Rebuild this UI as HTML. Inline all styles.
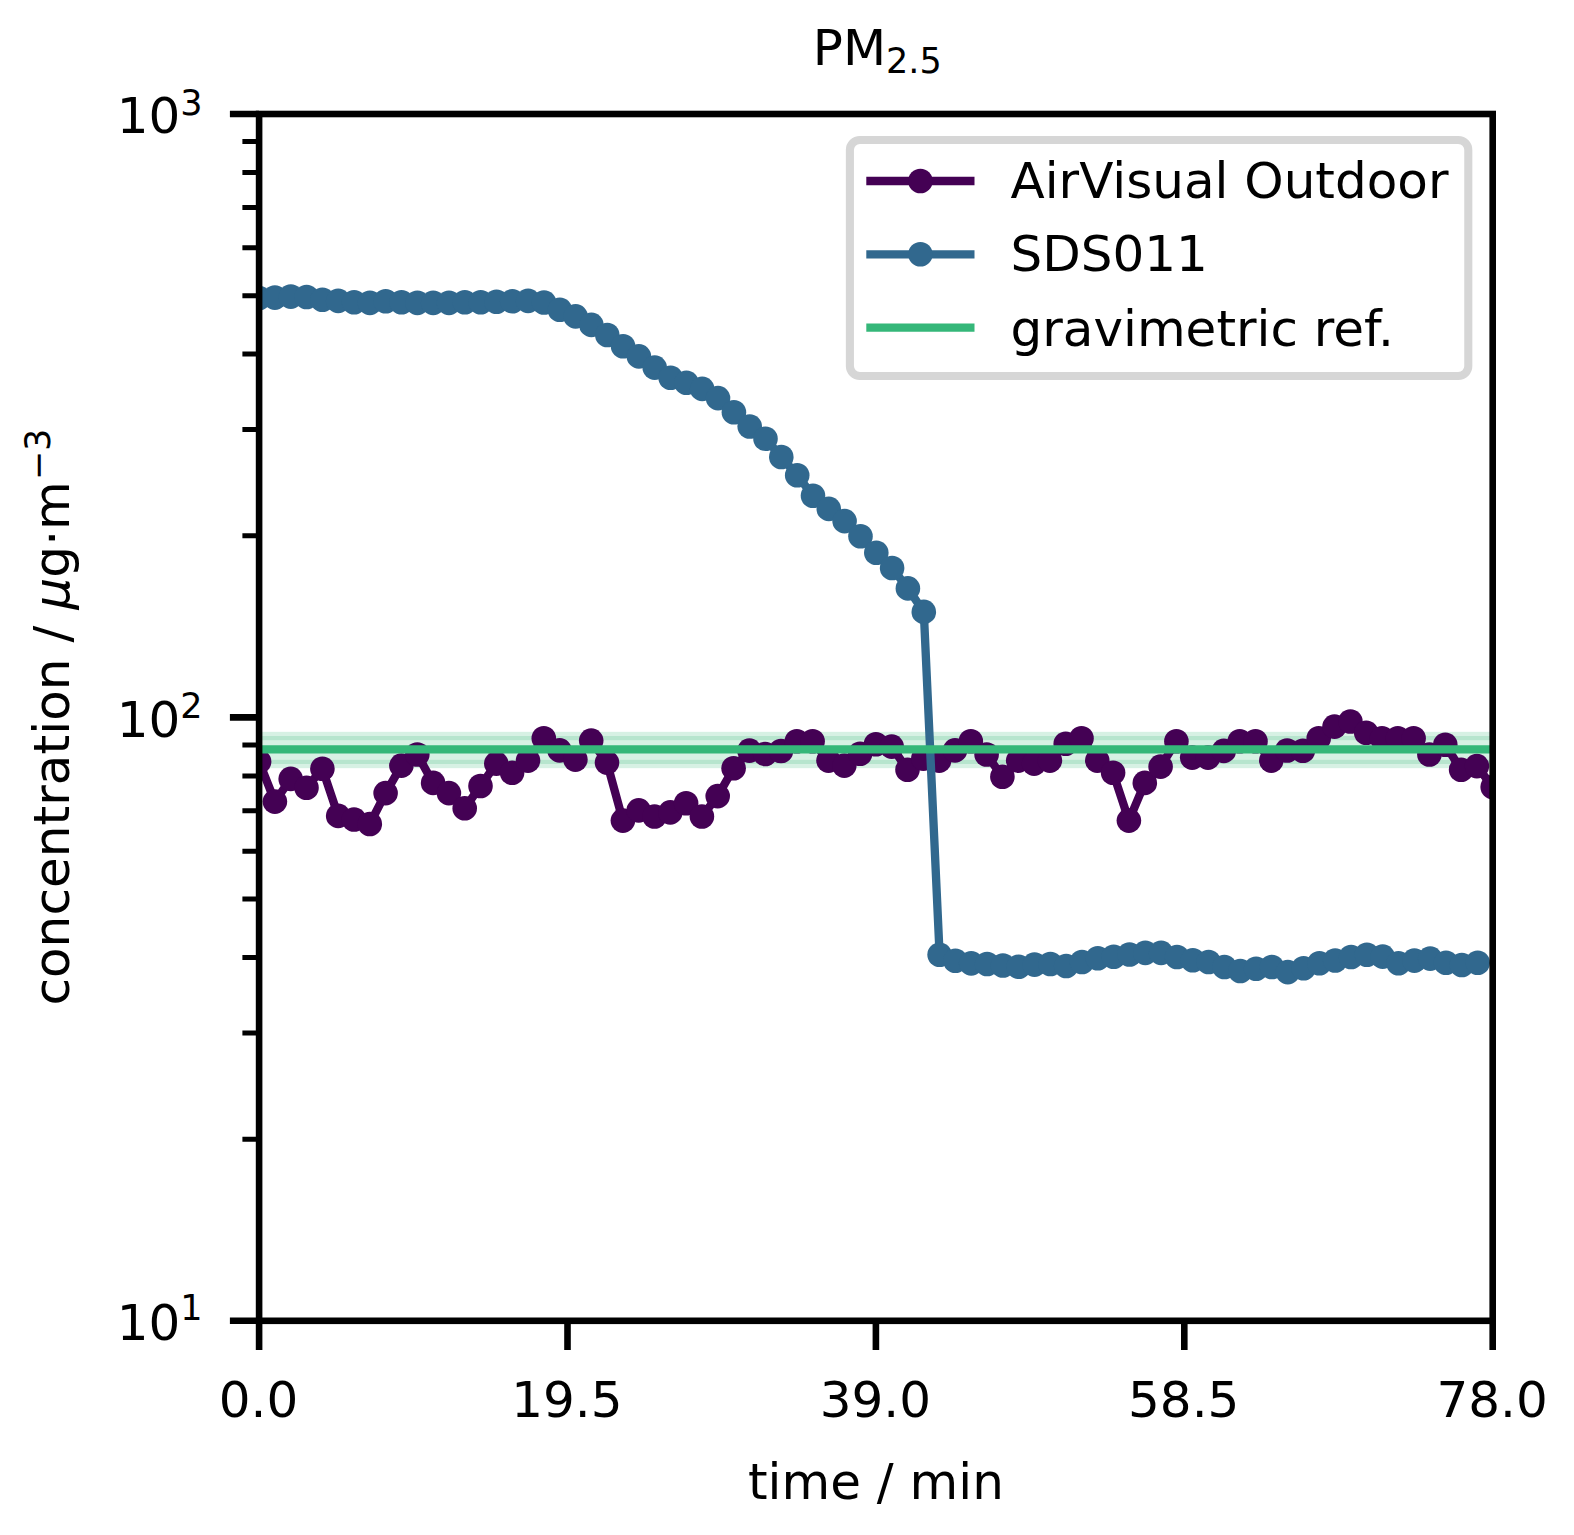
<!DOCTYPE html>
<html><head><meta charset="utf-8"><title>PM2.5</title>
<style>html,body{margin:0;padding:0;background:#fff}svg{display:block}text{font-family:"DejaVu Sans","Liberation Sans",sans-serif;fill:#000}</style></head><body>
<svg width="1574" height="1535" viewBox="0 0 1574 1535">
<rect width="1574" height="1535" fill="#fff"/>
<defs><clipPath id="ax"><rect x="259.1" y="114.0" width="1233.6" height="1206.8"/></clipPath></defs>
<g clip-path="url(#ax)">
<rect x="239.10000000000002" y="736.0" width="1273.6" height="28.0" fill="#35b779" fill-opacity="0.2" stroke="#35b779" stroke-opacity="0.2" stroke-width="8.33"/>
<polyline points="259.1,761.6 274.9,801.6 290.7,778.9 306.5,787.8 322.4,768.7 338.2,815.9 354.0,819.5 369.8,824.0 385.6,793.1 401.4,765.6 417.3,754.5 433.1,782.9 448.9,793.1 464.7,808.3 480.5,786.0 496.3,763.6 512.1,772.8 528.0,760.6 543.8,738.2 559.6,750.4 575.4,759.6 591.2,740.6 607.0,762.6 622.9,820.6 638.7,810.4 654.5,816.5 670.3,812.4 686.1,803.3 701.9,816.5 717.7,796.1 733.6,768.2 749.4,750.6 765.2,754.0 781.0,751.0 796.8,741.3 812.6,741.3 828.5,760.6 844.3,765.6 860.1,753.7 875.9,744.3 891.7,746.6 907.5,769.7 923.3,758.6 939.2,760.6 955.0,750.4 970.8,741.3 986.6,754.5 1002.4,776.8 1018.2,760.6 1034.1,763.6 1049.9,760.6 1065.7,743.8 1081.5,738.2 1097.3,760.6 1113.1,772.8 1128.9,820.6 1144.8,782.9 1160.6,766.6 1176.4,741.3 1192.2,757.6 1208.0,757.6 1223.8,750.9 1239.7,741.3 1255.5,741.3 1271.3,760.6 1287.1,750.5 1302.9,750.8 1318.7,738.2 1334.5,726.6 1350.4,721.5 1366.2,732.7 1382.0,738.2 1397.8,738.2 1413.6,738.2 1429.4,754.5 1445.3,744.8 1461.1,769.7 1476.9,766.1 1492.7,787.0" fill="none" stroke="#440154" stroke-width="8.33" stroke-linejoin="round" stroke-linecap="butt"/>
<g fill="#440154"><circle cx="259.1" cy="761.6" r="12.3"/><circle cx="274.9" cy="801.6" r="12.3"/><circle cx="290.7" cy="778.9" r="12.3"/><circle cx="306.5" cy="787.8" r="12.3"/><circle cx="322.4" cy="768.7" r="12.3"/><circle cx="338.2" cy="815.9" r="12.3"/><circle cx="354.0" cy="819.5" r="12.3"/><circle cx="369.8" cy="824.0" r="12.3"/><circle cx="385.6" cy="793.1" r="12.3"/><circle cx="401.4" cy="765.6" r="12.3"/><circle cx="417.3" cy="754.5" r="12.3"/><circle cx="433.1" cy="782.9" r="12.3"/><circle cx="448.9" cy="793.1" r="12.3"/><circle cx="464.7" cy="808.3" r="12.3"/><circle cx="480.5" cy="786.0" r="12.3"/><circle cx="496.3" cy="763.6" r="12.3"/><circle cx="512.1" cy="772.8" r="12.3"/><circle cx="528.0" cy="760.6" r="12.3"/><circle cx="543.8" cy="738.2" r="12.3"/><circle cx="559.6" cy="750.4" r="12.3"/><circle cx="575.4" cy="759.6" r="12.3"/><circle cx="591.2" cy="740.6" r="12.3"/><circle cx="607.0" cy="762.6" r="12.3"/><circle cx="622.9" cy="820.6" r="12.3"/><circle cx="638.7" cy="810.4" r="12.3"/><circle cx="654.5" cy="816.5" r="12.3"/><circle cx="670.3" cy="812.4" r="12.3"/><circle cx="686.1" cy="803.3" r="12.3"/><circle cx="701.9" cy="816.5" r="12.3"/><circle cx="717.7" cy="796.1" r="12.3"/><circle cx="733.6" cy="768.2" r="12.3"/><circle cx="749.4" cy="750.6" r="12.3"/><circle cx="765.2" cy="754.0" r="12.3"/><circle cx="781.0" cy="751.0" r="12.3"/><circle cx="796.8" cy="741.3" r="12.3"/><circle cx="812.6" cy="741.3" r="12.3"/><circle cx="828.5" cy="760.6" r="12.3"/><circle cx="844.3" cy="765.6" r="12.3"/><circle cx="860.1" cy="753.7" r="12.3"/><circle cx="875.9" cy="744.3" r="12.3"/><circle cx="891.7" cy="746.6" r="12.3"/><circle cx="907.5" cy="769.7" r="12.3"/><circle cx="923.3" cy="758.6" r="12.3"/><circle cx="939.2" cy="760.6" r="12.3"/><circle cx="955.0" cy="750.4" r="12.3"/><circle cx="970.8" cy="741.3" r="12.3"/><circle cx="986.6" cy="754.5" r="12.3"/><circle cx="1002.4" cy="776.8" r="12.3"/><circle cx="1018.2" cy="760.6" r="12.3"/><circle cx="1034.1" cy="763.6" r="12.3"/><circle cx="1049.9" cy="760.6" r="12.3"/><circle cx="1065.7" cy="743.8" r="12.3"/><circle cx="1081.5" cy="738.2" r="12.3"/><circle cx="1097.3" cy="760.6" r="12.3"/><circle cx="1113.1" cy="772.8" r="12.3"/><circle cx="1128.9" cy="820.6" r="12.3"/><circle cx="1144.8" cy="782.9" r="12.3"/><circle cx="1160.6" cy="766.6" r="12.3"/><circle cx="1176.4" cy="741.3" r="12.3"/><circle cx="1192.2" cy="757.6" r="12.3"/><circle cx="1208.0" cy="757.6" r="12.3"/><circle cx="1223.8" cy="750.9" r="12.3"/><circle cx="1239.7" cy="741.3" r="12.3"/><circle cx="1255.5" cy="741.3" r="12.3"/><circle cx="1271.3" cy="760.6" r="12.3"/><circle cx="1287.1" cy="750.5" r="12.3"/><circle cx="1302.9" cy="750.8" r="12.3"/><circle cx="1318.7" cy="738.2" r="12.3"/><circle cx="1334.5" cy="726.6" r="12.3"/><circle cx="1350.4" cy="721.5" r="12.3"/><circle cx="1366.2" cy="732.7" r="12.3"/><circle cx="1382.0" cy="738.2" r="12.3"/><circle cx="1397.8" cy="738.2" r="12.3"/><circle cx="1413.6" cy="738.2" r="12.3"/><circle cx="1429.4" cy="754.5" r="12.3"/><circle cx="1445.3" cy="744.8" r="12.3"/><circle cx="1461.1" cy="769.7" r="12.3"/><circle cx="1476.9" cy="766.1" r="12.3"/><circle cx="1492.7" cy="787.0" r="12.3"/></g>
<polyline points="259.1,298.0 274.9,297.6 290.8,296.6 306.6,297.0 322.4,299.8 338.2,300.9 354.1,302.3 369.9,302.9 385.7,301.3 401.5,302.3 417.4,302.9 433.2,302.9 449.0,302.9 464.8,302.3 480.7,302.3 496.5,301.7 512.3,301.3 528.1,300.9 544.0,302.5 559.8,309.7 575.6,316.4 591.4,324.9 607.3,335.0 623.1,346.2 638.9,356.4 654.7,367.6 670.6,377.7 686.4,382.8 702.2,388.9 718.0,398.1 733.9,412.3 749.7,426.5 765.5,438.7 781.3,457.0 797.2,475.3 813.0,495.7 828.8,508.9 844.6,521.1 860.5,536.3 876.3,552.8 892.1,568.0 907.9,588.4 923.8,611.9 939.6,954.7 955.4,960.8 971.2,963.4 987.1,964.0 1002.9,965.5 1018.7,966.7 1034.5,964.6 1050.4,964.0 1066.2,966.0 1082.0,962.0 1097.8,958.3 1113.7,956.7 1129.5,954.5 1145.3,952.9 1161.1,952.9 1177.0,957.0 1192.8,960.2 1208.6,962.0 1224.4,967.0 1240.3,971.0 1256.1,968.8 1271.9,967.0 1287.8,972.1 1303.6,968.3 1319.4,963.3 1335.2,960.5 1351.1,957.0 1366.9,954.8 1382.7,956.6 1398.5,963.2 1414.4,960.6 1430.2,958.6 1446.0,962.7 1461.8,965.0 1477.7,962.7" fill="none" stroke="#31688e" stroke-width="8.33" stroke-linejoin="round" stroke-linecap="butt"/>
<g fill="#31688e"><circle cx="259.1" cy="298.0" r="12.3"/><circle cx="274.9" cy="297.6" r="12.3"/><circle cx="290.8" cy="296.6" r="12.3"/><circle cx="306.6" cy="297.0" r="12.3"/><circle cx="322.4" cy="299.8" r="12.3"/><circle cx="338.2" cy="300.9" r="12.3"/><circle cx="354.1" cy="302.3" r="12.3"/><circle cx="369.9" cy="302.9" r="12.3"/><circle cx="385.7" cy="301.3" r="12.3"/><circle cx="401.5" cy="302.3" r="12.3"/><circle cx="417.4" cy="302.9" r="12.3"/><circle cx="433.2" cy="302.9" r="12.3"/><circle cx="449.0" cy="302.9" r="12.3"/><circle cx="464.8" cy="302.3" r="12.3"/><circle cx="480.7" cy="302.3" r="12.3"/><circle cx="496.5" cy="301.7" r="12.3"/><circle cx="512.3" cy="301.3" r="12.3"/><circle cx="528.1" cy="300.9" r="12.3"/><circle cx="544.0" cy="302.5" r="12.3"/><circle cx="559.8" cy="309.7" r="12.3"/><circle cx="575.6" cy="316.4" r="12.3"/><circle cx="591.4" cy="324.9" r="12.3"/><circle cx="607.3" cy="335.0" r="12.3"/><circle cx="623.1" cy="346.2" r="12.3"/><circle cx="638.9" cy="356.4" r="12.3"/><circle cx="654.7" cy="367.6" r="12.3"/><circle cx="670.6" cy="377.7" r="12.3"/><circle cx="686.4" cy="382.8" r="12.3"/><circle cx="702.2" cy="388.9" r="12.3"/><circle cx="718.0" cy="398.1" r="12.3"/><circle cx="733.9" cy="412.3" r="12.3"/><circle cx="749.7" cy="426.5" r="12.3"/><circle cx="765.5" cy="438.7" r="12.3"/><circle cx="781.3" cy="457.0" r="12.3"/><circle cx="797.2" cy="475.3" r="12.3"/><circle cx="813.0" cy="495.7" r="12.3"/><circle cx="828.8" cy="508.9" r="12.3"/><circle cx="844.6" cy="521.1" r="12.3"/><circle cx="860.5" cy="536.3" r="12.3"/><circle cx="876.3" cy="552.8" r="12.3"/><circle cx="892.1" cy="568.0" r="12.3"/><circle cx="907.9" cy="588.4" r="12.3"/><circle cx="923.8" cy="611.9" r="12.3"/><circle cx="939.6" cy="954.7" r="12.3"/><circle cx="955.4" cy="960.8" r="12.3"/><circle cx="971.2" cy="963.4" r="12.3"/><circle cx="987.1" cy="964.0" r="12.3"/><circle cx="1002.9" cy="965.5" r="12.3"/><circle cx="1018.7" cy="966.7" r="12.3"/><circle cx="1034.5" cy="964.6" r="12.3"/><circle cx="1050.4" cy="964.0" r="12.3"/><circle cx="1066.2" cy="966.0" r="12.3"/><circle cx="1082.0" cy="962.0" r="12.3"/><circle cx="1097.8" cy="958.3" r="12.3"/><circle cx="1113.7" cy="956.7" r="12.3"/><circle cx="1129.5" cy="954.5" r="12.3"/><circle cx="1145.3" cy="952.9" r="12.3"/><circle cx="1161.1" cy="952.9" r="12.3"/><circle cx="1177.0" cy="957.0" r="12.3"/><circle cx="1192.8" cy="960.2" r="12.3"/><circle cx="1208.6" cy="962.0" r="12.3"/><circle cx="1224.4" cy="967.0" r="12.3"/><circle cx="1240.3" cy="971.0" r="12.3"/><circle cx="1256.1" cy="968.8" r="12.3"/><circle cx="1271.9" cy="967.0" r="12.3"/><circle cx="1287.8" cy="972.1" r="12.3"/><circle cx="1303.6" cy="968.3" r="12.3"/><circle cx="1319.4" cy="963.3" r="12.3"/><circle cx="1335.2" cy="960.5" r="12.3"/><circle cx="1351.1" cy="957.0" r="12.3"/><circle cx="1366.9" cy="954.8" r="12.3"/><circle cx="1382.7" cy="956.6" r="12.3"/><circle cx="1398.5" cy="963.2" r="12.3"/><circle cx="1414.4" cy="960.6" r="12.3"/><circle cx="1430.2" cy="958.6" r="12.3"/><circle cx="1446.0" cy="962.7" r="12.3"/><circle cx="1461.8" cy="965.0" r="12.3"/><circle cx="1477.7" cy="962.7" r="12.3"/></g>
<line x1="259.1" x2="1492.7" y1="749.4" y2="749.4" stroke="#35b779" stroke-width="8.2"/>
</g>
<path d="M259.1 1320.80h-29.2 M259.1 717.40h-29.2 M259.1 114.00h-29.2" stroke="#000" stroke-width="6.6" fill="none"/>
<path d="M259.1 1139.16h-16.7 M259.1 1032.91h-16.7 M259.1 957.52h-16.7 M259.1 899.04h-16.7 M259.1 851.26h-16.7 M259.1 810.87h-16.7 M259.1 775.88h-16.7 M259.1 745.01h-16.7 M259.1 535.76h-16.7 M259.1 429.51h-16.7 M259.1 354.12h-16.7 M259.1 295.64h-16.7 M259.1 247.86h-16.7 M259.1 207.47h-16.7 M259.1 172.48h-16.7 M259.1 141.61h-16.7" stroke="#000" stroke-width="5" fill="none"/>
<path d="M259.10 1320.8v29.2 M567.50 1320.8v29.2 M875.90 1320.8v29.2 M1184.30 1320.8v29.2 M1492.70 1320.8v29.2" stroke="#000" stroke-width="6.6" fill="none"/>
<rect x="259.1" y="114.0" width="1233.6" height="1206.8" fill="none" stroke="#000" stroke-width="6.6" stroke-linejoin="miter"/>
<text x="258.5" y="1417.2" font-size="50" text-anchor="middle">0.0</text>
<text x="566.9" y="1417.2" font-size="50" text-anchor="middle">19.5</text>
<text x="875.3" y="1417.2" font-size="50" text-anchor="middle">39.0</text>
<text x="1183.7" y="1417.2" font-size="50" text-anchor="middle">58.5</text>
<text x="1492.1" y="1417.2" font-size="50" text-anchor="middle">78.0</text>
<text x="202.6" y="1340.1" font-size="50" text-anchor="end">10<tspan font-size="35" dy="-20.0">1</tspan></text>
<text x="202.6" y="736.7" font-size="50" text-anchor="end">10<tspan font-size="35" dy="-19.0">2</tspan></text>
<text x="202.6" y="133.3" font-size="50" text-anchor="end">10<tspan font-size="35" dy="-18.6">3</tspan></text>
<text x="812.8" y="64.7" font-size="50">PM<tspan font-size="35" dy="7.8">2.5</tspan></text>
<text x="875.9" y="1499" font-size="50" text-anchor="middle">time / min</text>
<text transform="translate(68.7,1005.6) rotate(-90)" font-size="50" letter-spacing="0.07">concentration / <tspan font-style="italic">μ</tspan>g·m<tspan font-size="35" dx="0.8" dy="-18.5">−3</tspan></text>
<rect x="849.9" y="140.0" width="618.4" height="236.0" rx="10" ry="10" fill="#fff" fill-opacity="0.8" stroke="#ccc" stroke-opacity="0.8" stroke-width="8.1"/>
<line x1="866.3" x2="974.5" y1="181.0" y2="181.0" stroke="#440154" stroke-width="8.33"/>
<circle cx="920.4" cy="181.0" r="12.3" fill="#440154"/>
<text x="1010.5" y="198.4" font-size="50">AirVisual Outdoor</text>
<line x1="866.3" x2="974.5" y1="254.3" y2="254.3" stroke="#31688e" stroke-width="8.33"/>
<circle cx="920.4" cy="254.3" r="12.3" fill="#31688e"/>
<text x="1010.5" y="270.9" font-size="50">SDS011</text>
<line x1="866.3" x2="974.5" y1="327.7" y2="327.7" stroke="#35b779" stroke-width="8.33"/>
<text x="1010.5" y="346.2" font-size="50">gravimetric ref.</text>
</svg></body></html>
